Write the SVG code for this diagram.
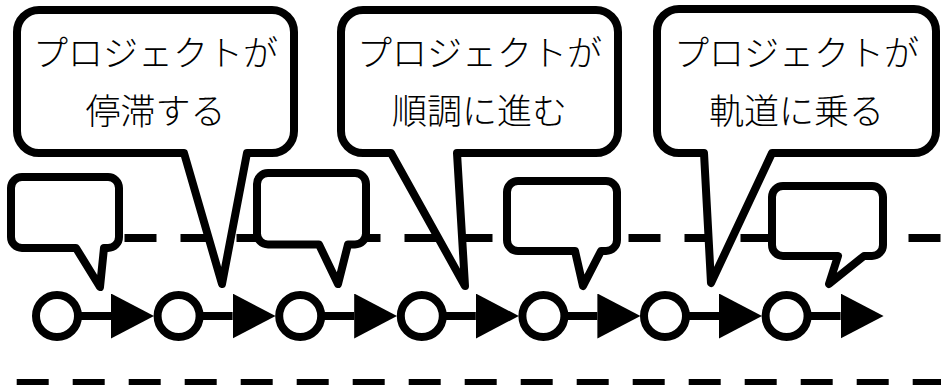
<svg xmlns="http://www.w3.org/2000/svg" width="941" height="385" viewBox="0 0 941 385">
  <style>
    .dash { fill: none; stroke: #000; stroke-width: 8; stroke-dasharray: 32 24; }
    .bubble { fill: #fff; stroke: #000; stroke-width: 8; stroke-linejoin: round; }
    .node { fill: #fff; stroke: #000; stroke-width: 8; }
    .edge { fill: none; stroke: #000; stroke-width: 8; marker-end: url(#arrow); }
    .label { font-family: "Noto Sans CJK JP", "Noto Sans", sans-serif; font-size: 35px; font-weight: 300; text-anchor: middle; fill: #000; }
  </style>
  <defs>
    <marker id="arrow" markerUnits="userSpaceOnUse" markerWidth="43" markerHeight="45" viewBox="0 0 43 45" refX="0" refY="22.5" orient="auto">
      <path d="M0,0 L43,22.5 L0,45 Z" fill="#000"/>
    </marker>
  </defs>

  <g id="guides">
    <line class="dash" x1="0" y1="238" x2="941" y2="238" stroke-dashoffset="43.5"/>
    <line class="dash" x1="0" y1="383" x2="941" y2="383" stroke-dashoffset="39.3"/>
  </g>

  <g id="connectors">
    <line class="edge" x1="78" y1="316" x2="111" y2="316"/>
    <line class="edge" x1="199.6" y1="316" x2="232.6" y2="316"/>
    <line class="edge" x1="321.2" y1="316" x2="354.2" y2="316"/>
    <line class="edge" x1="442.8" y1="316" x2="475.8" y2="316"/>
    <line class="edge" x1="564.4" y1="316" x2="597.4" y2="316"/>
    <line class="edge" x1="686" y1="316" x2="719" y2="316"/>
    <line class="edge" x1="807.6" y1="316" x2="840.6" y2="316"/>
  </g>

  <g id="node1"><circle class="node" cx="57" cy="316" r="21"/></g>
  <g id="node2"><circle class="node" cx="178.6" cy="316" r="21"/></g>
  <g id="node3"><circle class="node" cx="300.2" cy="316" r="21"/></g>
  <g id="node4"><circle class="node" cx="421.8" cy="316" r="21"/></g>
  <g id="node5"><circle class="node" cx="543.4" cy="316" r="21"/></g>
  <g id="node6"><circle class="node" cx="665" cy="316" r="21"/></g>
  <g id="node7"><circle class="node" cx="786.6" cy="316" r="21"/></g>

  <g id="small-bubble1">
    <path class="bubble" d="M22,177 H108 A11,11 0 0 1 119,188 V237 A11,11 0 0 1 108,248 H104 L100,287 L76,248 H22 A11,11 0 0 1 11,237 V188 A11,11 0 0 1 22,177 Z"/>
  </g>
  <g id="small-bubble2">
    <path class="bubble" d="M268,173 H355 A11,11 0 0 1 366,184 V233.5 A11,11 0 0 1 355,244.5 H348 L338,284 L319,244.5 H268 A11,11 0 0 1 257,233.5 V184 A11,11 0 0 1 268,173 Z"/>
  </g>
  <g id="small-bubble3">
    <path class="bubble" d="M518,181 H606 A11,11 0 0 1 617,192 V240 A11,11 0 0 1 606,251 H601 L583,286 L575,251 H518 A11,11 0 0 1 507,240 V192 A11,11 0 0 1 518,181 Z"/>
  </g>
  <g id="small-bubble4">
    <path class="bubble" d="M783,186 H872 A11,11 0 0 1 883,197 V245 A11,11 0 0 1 872,256 H864 L829,284 L838,256 H783 A11,11 0 0 1 772,245 V197 A11,11 0 0 1 783,186 Z"/>
  </g>

  <g id="bubble1">
    <path class="bubble" d="M39,10 H272 A22,22 0 0 1 294,32 V131 A22,22 0 0 1 272,153 H247 L222,284 L184,153 H39 A22,22 0 0 1 17,131 V32 A22,22 0 0 1 39,10 Z"/>
    <text class="label" x="155.5" y="66">プロジェクトが</text>
    <text class="label" x="155.5" y="124">停滞する</text>
  </g>
  <g id="bubble2">
    <path class="bubble" d="M363,10 H596 A22,22 0 0 1 618,32 V131 A22,22 0 0 1 596,153 H457 L465,286 L391,153 H363 A22,22 0 0 1 341,131 V32 A22,22 0 0 1 363,10 Z"/>
    <text class="label" x="479.5" y="66">プロジェクトが</text>
    <text class="label" x="479.5" y="124">順調に進む</text>
  </g>
  <g id="bubble3">
    <path class="bubble" d="M679,9 H914 A22,22 0 0 1 936,31 V131 A22,22 0 0 1 914,153 H772 L711,283 L704,153 H679 A22,22 0 0 1 657,131 V31 A22,22 0 0 1 679,9 Z"/>
    <text class="label" x="796.5" y="66">プロジェクトが</text>
    <text class="label" x="796.5" y="124">軌道に乗る</text>
  </g>
</svg>
